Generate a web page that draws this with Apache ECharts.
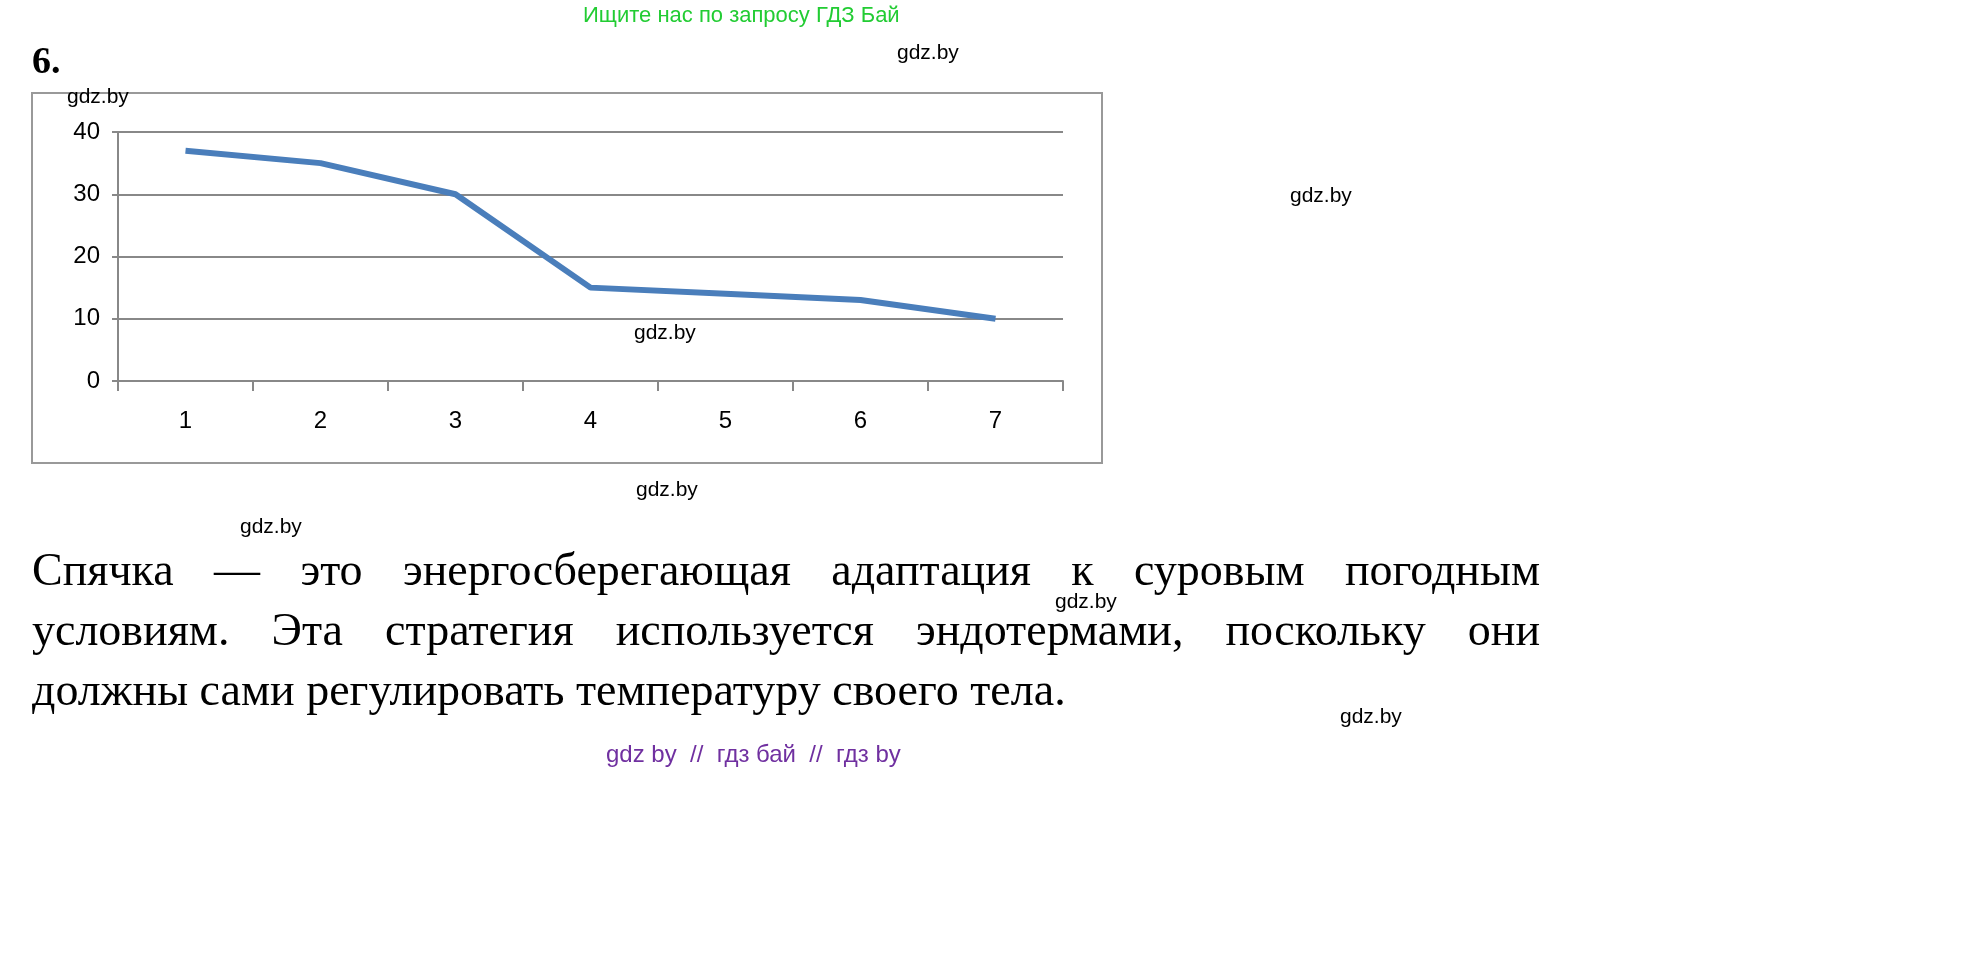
<!DOCTYPE html>
<html><head><meta charset="utf-8">
<script src="https://cdn.jsdelivr.net/npm/echarts@6/dist/echarts.min.js"></script>
<style>
html,body{margin:0;padding:0;background:#fff;}
#c{position:absolute;left:0;top:0;width:1962px;height:966px;}
.t{position:absolute;white-space:nowrap;}
.w{font-family:"Liberation Sans",Arial,sans-serif;font-size:21px;color:#000;}
#p{position:absolute;left:32px;top:540px;width:1508px;font-family:"Liberation Serif",serif;font-size:46px;line-height:60px;color:#000;}
#p div.j{text-align:justify;text-align-last:justify;}
</style></head><body>
<div id="c"></div>
<div class="t" style="left:583px;top:2px;font-family:'Liberation Sans',Arial;font-size:22px;color:#22cc33;">Ищите нас по запросу ГДЗ Бай</div>
<div class="t" style="left:32px;top:38px;font-family:'Liberation Serif',serif;font-size:38px;font-weight:bold;">6.</div>
<div class="t w" style="left:897px;top:40px;">gdz.by</div>
<div class="t w" style="left:67px;top:84px;">gdz.by</div>
<div class="t w" style="left:1290px;top:183px;">gdz.by</div>
<div class="t w" style="left:634px;top:320px;">gdz.by</div>
<div class="t w" style="left:636px;top:477px;">gdz.by</div>
<div class="t w" style="left:240px;top:514px;">gdz.by</div>
<div id="p"><div class="j">Спячка — это энергосберегающая адаптация к суровым погодным</div><div class="j">условиям. Эта стратегия используется эндотермами, поскольку они</div><div>должны сами регулировать температуру своего тела.</div></div>
<div class="t w" style="left:1055px;top:589px;">gdz.by</div>
<div class="t w" style="left:1340px;top:704px;">gdz.by</div>
<div class="t" style="left:606px;top:740px;font-family:'Liberation Sans',Arial;font-size:24px;color:#7030a0;">gdz by &nbsp;// &nbsp;гдз бай &nbsp;// &nbsp;гдз by</div>
<script>
const categories=['1','2','3','4','5','6','7'];
const values=[37,35,30,15,14,13,10];
const chart=echarts.init(document.getElementById('c'));
chart.setOption({
  animation:false,
  graphic:[{type:'rect',shape:{x:32,y:93,width:1070,height:370},style:{fill:'none',stroke:'#999',lineWidth:2}}],
  grid:{left:118,top:132,width:945,height:249},
  xAxis:{type:'category',data:categories,boundaryGap:true,
    axisLine:{lineStyle:{color:'#888',width:2}},
    axisTick:{show:true,length:10,inside:false,lineStyle:{color:'#888',width:2}},
    axisLabel:{fontSize:24,color:'#000',margin:28,fontFamily:'Liberation Sans'}},
  yAxis:{type:'value',min:0,max:40,interval:10,
    axisLine:{show:true,lineStyle:{color:'#888',width:2}},
    axisTick:{show:true,length:6,lineStyle:{color:'#888',width:2}},
    splitLine:{lineStyle:{color:'#888',width:2}},
    axisLabel:{fontSize:24,color:'#000',margin:18,fontFamily:'Liberation Sans'}},
  series:[{type:'line',data:values,symbol:'none',lineStyle:{color:'#4a7ebb',width:6}}]
});
</script></body></html>
